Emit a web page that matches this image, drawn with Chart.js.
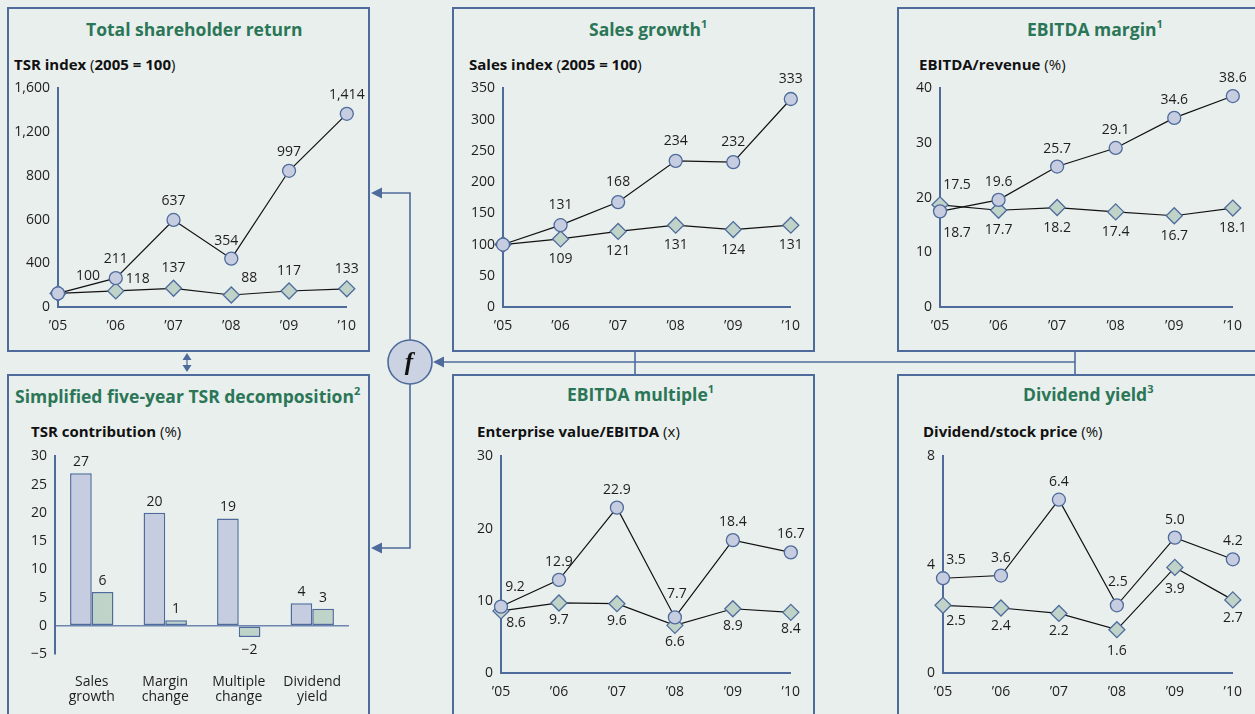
<!DOCTYPE html>
<html>
<head>
<meta charset="utf-8">
<script src="https://cdn.jsdelivr.net/npm/chart.js@4.4.1/dist/chart.umd.min.js"></script>
<style>
  html, body { margin: 0; padding: 0; }
  body { width: 1255px; height: 714px; overflow: hidden; position: relative; background: #e9efed; font-family: "Open Sans", "Noto Sans", sans-serif; }
  .panel { position: absolute; border: 2px solid #4f6b9c; box-sizing: border-box; }
  .title { position: absolute; transform: translateY(-50%); color: #2b7657; font-weight: 700; font-size: 17.5px; line-height: 1; white-space: nowrap; }
  .title sup { font-size: 11px; position: relative; top: -3px; vertical-align: top; }
  .sub { position: absolute; transform: translateY(-50%); color: #111; font-weight: 700; font-size: 15px; line-height: 1; white-space: nowrap; }
  .sub span { font-weight: 400; }
  canvas { position: absolute; }
  svg { position: absolute; left: 0; top: 0; pointer-events: none; }
</style>
</head>
<body>
<div class="panel" style="left:7px;top:7px;width:363px;height:345px"></div>
<div class="panel" style="left:7px;top:374px;width:363px;height:360px"></div>
<div class="panel" style="left:452px;top:7px;width:363px;height:345px"></div>
<div class="panel" style="left:897px;top:7px;width:400px;height:345px"></div>
<div class="panel" style="left:452px;top:374px;width:363px;height:360px"></div>
<div class="panel" style="left:897px;top:374px;width:400px;height:360px"></div>

<div class="title" style="left:86px;top:30px">Total shareholder return</div>
<div class="sub" style="left:14px;top:64px">TSR index <span>(</span>2005 = 100<span>)</span></div>
<div class="title" style="left:589px;top:30px">Sales growth<sup>1</sup></div>
<div class="sub" style="left:469px;top:64px">Sales index <span>(</span>2005 = 100<span>)</span></div>
<div class="title" style="left:1027px;top:30px">EBITDA margin<sup>1</sup></div>
<div class="sub" style="left:919px;top:64px">EBITDA/revenue <span>(%)</span></div>
<div class="title" style="left:15px;top:397px">Simplified five-year TSR decomposition<sup>2</sup></div>
<div class="sub" style="left:31px;top:431px">TSR contribution <span>(%)</span></div>
<div class="title" style="left:567px;top:395px">EBITDA multiple<sup>1</sup></div>
<div class="sub" style="left:477px;top:431px">Enterprise value/EBITDA <span>(x)</span></div>
<div class="title" style="left:1023px;top:395px">Dividend yield<sup>3</sup></div>
<div class="sub" style="left:923px;top:431px">Dividend/stock price <span>(%)</span></div>

<canvas id="tsr"></canvas>
<canvas id="decomp"></canvas>
<canvas id="sales"></canvas>
<canvas id="margin"></canvas>
<canvas id="multiple"></canvas>
<canvas id="yield"></canvas>

<svg width="1255" height="714" viewBox="0 0 1255 714">
  <g stroke="#4f6b9c" stroke-width="1.6" fill="none">
    <polyline points="410,340 410,193 380,193"/>
    <polyline points="410,384 410,548 380,548"/>
    <line x1="1075" y1="362" x2="442" y2="362"/>
    <line x1="635" y1="351" x2="635" y2="374"/>
    <line x1="1075" y1="351" x2="1075" y2="374"/>
    <line x1="187" y1="356" x2="187" y2="369" stroke="#6f86b0"/>
  </g>
  <g fill="#4f6b9c">
    <polygon points="371,193 382,187.5 382,198.5"/>
    <polygon points="371,548 382,542.5 382,553.5"/>
    <polygon points="433,362 444,356.5 444,367.5"/>
    <polygon points="187,353 182.5,360 191.5,360"/>
    <polygon points="187,372 182.5,365 191.5,365"/>
  </g>
  <circle cx="410" cy="362" r="22" fill="#cbd2e2" stroke="#4f6b9c" stroke-width="1.6"/>
  <text x="409" y="370" text-anchor="middle" font-family="Liberation Serif, DejaVu Serif, serif" font-style="italic" font-weight="700" font-size="25" fill="#111">f</text>
</svg>

<script>
// Years on every time axis
const years = ["\u201905", "\u201906", "\u201907", "\u201908", "\u201909", "\u201910"];

// Total shareholder return, index 2005 = 100
const tsrCompany = [100, 211, 637, 354, 997, 1414];
const tsrPeers = [100, 118, 137, 88, 117, 133];
const tsrTickLabels = ["0", "400", "600", "800", "1,200", "1,600"];

// Sales index, 2005 = 100
const salesCompany = [100, 131, 168, 234, 232, 333];
const salesPeers = [100, 109, 121, 131, 124, 131];

// EBITDA / revenue (%)
const marginCompany = [17.5, 19.6, 25.7, 29.1, 34.6, 38.6];
const marginPeers = [18.7, 17.7, 18.2, 17.4, 16.7, 18.1];

// Enterprise value / EBITDA (x)
const multipleCompany = [9.2, 12.9, 22.9, 7.7, 18.4, 16.7];
const multiplePeers = [8.6, 9.7, 9.6, 6.6, 8.9, 8.4];

// Dividend / stock price (%)
const yieldCompany = [3.5, 3.6, 6.4, 2.5, 5.0, 4.2];
const yieldPeers = [2.5, 2.4, 2.2, 1.6, 3.9, 2.7];

// Five-year TSR contribution (%)
const drivers = [["Sales", "growth"], ["Margin", "change"], ["Multiple", "change"], ["Dividend", "yield"]];
const contribCompany = [27, 20, 19, 4];
const contribPeers = [6, 1, -2, 3];

const EDGE = "#4f6b9c";
const CIRCLE_FILL = "#c6cde0";
const DIAMOND_FILL = "#bfd3c8";
const TEXT = "#1e1e1e";
const FONT = '"Open Sans", "Noto Sans", sans-serif';

Chart.defaults.font.family = FONT;
Chart.defaults.color = TEXT;
Chart.defaults.animation = false;

function fmt(v, decimals) {
  const s = Math.abs(v).toLocaleString("en-US", { minimumFractionDigits: decimals, maximumFractionDigits: decimals });
  return (v < 0 ? "\u2212" : "") + s;
}

// Draws each value next to its mark
const valueLabels = {
  id: "valueLabels",
  afterDatasetsDraw(chart) {
    const ctx = chart.ctx;
    ctx.save();
    ctx.font = "14px " + FONT;
    ctx.fillStyle = TEXT;
    ctx.textAlign = "center";
    ctx.textBaseline = "middle";
    chart.data.datasets.forEach((ds, di) => {
      const lab = ds.valueLabel;
      if (!lab) return;
      chart.getDatasetMeta(di).data.forEach((el, i) => {
        if (lab.skip && lab.skip.includes(i)) return;
        const v = ds.data[i];
        let dx = 0, dy;
        if (lab.shift && lab.shift[i]) { [dx, dy] = lab.shift[i]; }
        else if (lab.bar) { dy = v >= 0 ? -11 : 13; }
        else { dy = lab.dy; }
        ctx.fillText(fmt(v, lab.decimals || 0), el.x + dx, el.y + dy);
      });
    });
    ctx.restore();
  }
};

// Places a canvas over [box] and sizes its axes so the plot fills [plot]
function frame(id, box, plot) {
  const c = document.getElementById(id);
  c.style.left = box.l + "px";
  c.style.top = box.t + "px";
  c.style.width = (box.r - box.l) + "px";
  c.style.height = (box.b - box.t) + "px";
  c.width = box.r - box.l;
  c.height = box.b - box.t;
  return {
    canvas: c,
    padding: { top: plot.t - box.t, right: box.r - plot.r, left: 0, bottom: 0 },
    yWidth: plot.l - box.l,
    xHeight: box.b - plot.b
  };
}

function lineChart(id, box, plot, series, yOpts, labelOpts) {
  const f = frame(id, box, plot);
  const [company, peers] = series;
  return new Chart(f.canvas, {
    type: "line",
    data: {
      labels: years,
      datasets: [
        {
          data: company, borderColor: "#111", borderWidth: 1.2, tension: 0, clip: false,
          pointStyle: "circle", pointRadius: 6.5, pointBackgroundColor: CIRCLE_FILL,
          pointBorderColor: EDGE, pointBorderWidth: 1.3,
          valueLabel: labelOpts[0]
        },
        {
          data: peers, borderColor: "#111", borderWidth: 1.2, tension: 0, clip: false,
          pointStyle: "rectRot", pointRadius: 8, pointBackgroundColor: DIAMOND_FILL,
          pointBorderColor: EDGE, pointBorderWidth: 1.3,
          valueLabel: labelOpts[1]
        }
      ]
    },
    options: {
      responsive: false,
      layout: { padding: f.padding },
      plugins: { legend: { display: false }, tooltip: { enabled: false } },
      scales: {
        x: {
          offset: false,
          grid: { display: false, drawTicks: false },
          border: { display: true, color: EDGE, width: 2 },
          ticks: { padding: 11, font: { size: 14 }, color: TEXT, maxRotation: 0, autoSkip: false },
          afterFit(s) { s.height = f.xHeight; }
        },
        y: Object.assign({
          grid: { display: false, drawTicks: false },
          border: { display: true, color: EDGE, width: 2 },
          afterFit(s) { s.width = f.yWidth; }
        }, yOpts)
      }
    },
    plugins: [valueLabels]
  });
}

function yTicks(min, max, step, cb) {
  const t = { padding: 8, font: { size: 14 }, color: TEXT, stepSize: step, autoSkip: false };
  if (cb) t.callback = cb;
  return { min, max, ticks: t };
}

// Total shareholder return
lineChart("tsr", { l: 9, t: 72, r: 367, b: 345 }, { l: 58, t: 86, r: 349, b: 307 },
  [tsrCompany, tsrPeers],
  yTicks(0, 1600, 320, (v, i) => tsrTickLabels[i]),
  [
    { dy: -19, shift: { 0: [30, -17], 3: [-5, -18] } },
    { dy: -20, skip: [0], shift: { 1: [22, -12], 3: [18, -17] } }
  ]);

// Sales growth
lineChart("sales", { l: 454, t: 72, r: 811, b: 345 }, { l: 503, t: 84, r: 796, b: 307 },
  [salesCompany, salesPeers],
  yTicks(0, 350, 50),
  [
    { dy: -20, skip: [0] },
    { dy: 20, skip: [0] }
  ]);

// EBITDA margin
lineChart("margin", { l: 899, t: 72, r: 1253, b: 345 }, { l: 940, t: 82, r: 1233, b: 307 },
  [marginCompany, marginPeers],
  yTicks(0, 40, 10),
  [
    { dy: -18, decimals: 1, shift: { 0: [17, -26] } },
    { dy: 20, decimals: 1, shift: { 0: [17, 28] } }
  ]);

// EBITDA multiple
lineChart("multiple", { l: 454, t: 440, r: 811, b: 712 }, { l: 501, t: 450, r: 793, b: 673 },
  [multipleCompany, multiplePeers],
  yTicks(0, 30, 10),
  [
    { dy: -18, decimals: 1, shift: { 0: [14, -20], 3: [2, -23] } },
    { dy: 17, decimals: 1, shift: { 0: [15, 12] } }
  ]);

// Dividend yield
lineChart("yield", { l: 899, t: 440, r: 1253, b: 712 }, { l: 943, t: 454, r: 1235, b: 673 },
  [yieldCompany, yieldPeers],
  yTicks(0, 8, 4),
  [
    { dy: -18, decimals: 1, shift: { 0: [13, -18], 3: [1, -23] } },
    { dy: 18, decimals: 1, shift: { 0: [13, 16], 3: [0, 21], 4: [0, 22] } }
  ]);

// Simplified five-year TSR decomposition
(function () {
  const f = frame("decomp", { l: 9, t: 440, r: 367, b: 712 }, { l: 55, t: 453, r: 349, b: 654 });
  new Chart(f.canvas, {
    type: "bar",
    data: {
      labels: drivers,
      datasets: [
        { data: contribCompany, backgroundColor: CIRCLE_FILL, borderColor: EDGE, borderWidth: 1.5, borderSkipped: false, valueLabel: { bar: true } },
        { data: contribPeers, backgroundColor: DIAMOND_FILL, borderColor: EDGE, borderWidth: 1.5, borderSkipped: false, valueLabel: { bar: true } }
      ]
    },
    options: {
      responsive: false,
      layout: { padding: f.padding },
      plugins: { legend: { display: false }, tooltip: { enabled: false } },
      datasets: { bar: { categoryPercentage: 0.59, barPercentage: 1.0 } },
      scales: {
        x: {
          grid: { display: false, drawTicks: false },
          border: { display: false },
          ticks: { padding: 20, font: { size: 14, lineHeight: 1.1 }, color: TEXT, maxRotation: 0, autoSkip: false },
          afterFit(s) { s.height = f.xHeight; }
        },
        y: {
          min: -5, max: 30,
          grid: {
            drawTicks: false, lineWidth: 1.5,
            color: c => (c.tick && c.tick.value === 0) ? "#6f86b0" : "rgba(0,0,0,0)"
          },
          border: { display: true, color: EDGE, width: 2 },
          ticks: { padding: 8, font: { size: 14 }, color: TEXT, stepSize: 5, callback: v => fmt(v, 0) },
          afterFit(s) { s.width = f.yWidth; }
        }
      }
    },
    plugins: [valueLabels]
  });
})();
</script>
</body>
</html>
